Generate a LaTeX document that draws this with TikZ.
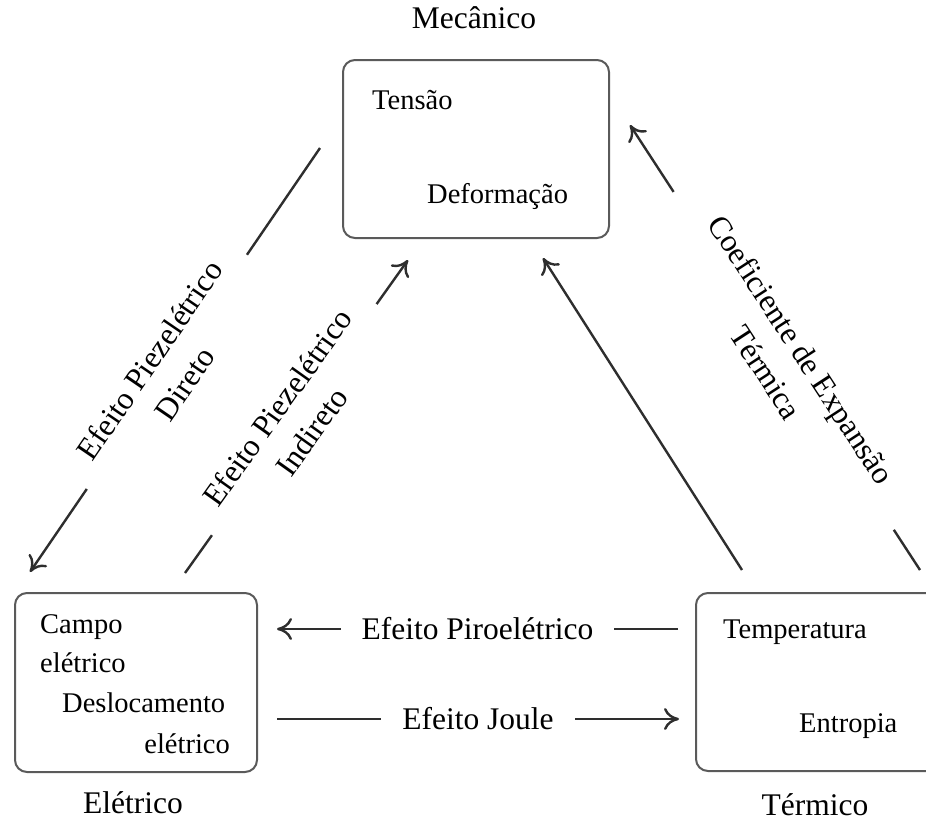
\documentclass[tikz,border=0pt]{standalone}
\usepackage{fontspec}
\setmainfont{Liberation Serif}
\usetikzlibrary{arrows.meta}
\definecolor{lncol}{HTML}{2E2E2E}
\definecolor{boxcol}{HTML}{5A5A5A}
\begin{document}
\begin{tikzpicture}[x=1pt,y=-1pt,
  box/.style={draw=boxcol, line width=2pt, rounded corners=12pt, inner sep=0pt},
  lbl/.style={font=\fontsize{31.5}{42}\selectfont, inner sep=0pt},
  intext/.style={font=\fontsize{28.5}{38}\selectfont, inner sep=0pt},
  conn/.style={draw=lncol, line width=2.4pt, -{To[length=15pt,width=22pt]}},
  lab/.style={font=\fontsize{31.5}{42}\selectfont, fill=white, inner ysep=0pt, align=center}]
\useasboundingbox (0,0) rectangle (926,822);
\clip (0,0) rectangle (926,822);

% boxes
\node[box, minimum width=266pt, minimum height=178pt] (mec) at (476,149) {};
\node[box, minimum width=242pt, minimum height=179pt] (ele) at (136,682.5) {};
\node[box, minimum width=250pt, minimum height=178pt, anchor=west] (ter) at (695,682) {};

% group titles
\node[lbl, anchor=base] (tmec) at (474,28) {Mecânico};
\node[lbl, anchor=base] (tele) at (133,813) {Elétrico};
\node[lbl, anchor=base] (tter) at (815,815) {Térmico};

% box contents
\node[intext, anchor=base west] (ten) at (372,109) {Tensão};
\node[intext, anchor=base west] (def) at (427,203) {Deformação};
\node[intext, anchor=base west] (cam) at (40,633) {Campo};
\node[intext, anchor=base west] (el1) at (40,672) {elétrico};
\node[intext, anchor=base west] (des) at (62,712) {Deslocamento};
\node[intext, anchor=base east] (el2) at (230,753) {elétrico};
\node[intext, anchor=base west] (tem) at (723,638) {Temperatura};
\node[intext, anchor=base west] (ent) at (799,732) {Entropia};

% connector end points
\coordinate (pdA) at (320,148);
\coordinate (pdB) at (30,572);
\coordinate (piA) at (185,573);
\coordinate (piB) at (408,260);
\coordinate (thA) at (742,570);
\coordinate (thB) at (543,258);
\coordinate (ceA) at (920,570);
\coordinate (ceB) at (630,125);
\coordinate (pyA) at (678,629);
\coordinate (pyB) at (277,629);
\coordinate (jA) at (277,719);
\coordinate (jB) at (679,719);

% connectors
\draw[conn] (pdA) -- node[lab, sloped, pos=0.528, inner xsep=25pt] (lpd) {Efeito Piezelétrico\\Direto} (pdB);
\draw[conn] (piA) -- node[lab, sloped, pos=0.49, inner xsep=25pt] (lpi) {Efeito Piezelétrico\\Indireto} (piB);
\draw[conn] (thA) -- (thB);
\draw[conn] (ceA) -- node[lab, sloped, pos=0.47, inner xsep=45pt] (lce) {Coeficiente de Expansão\\Térmica} (ceB);
\draw[conn] (pyA) -- node[lab, inner xsep=21pt] (lpy) {Efeito Piroelétrico} (pyB);
\draw[conn] (jA) -- node[lab, inner xsep=21pt] (lj) {Efeito Joule} (jB);
\end{tikzpicture}
\end{document}
